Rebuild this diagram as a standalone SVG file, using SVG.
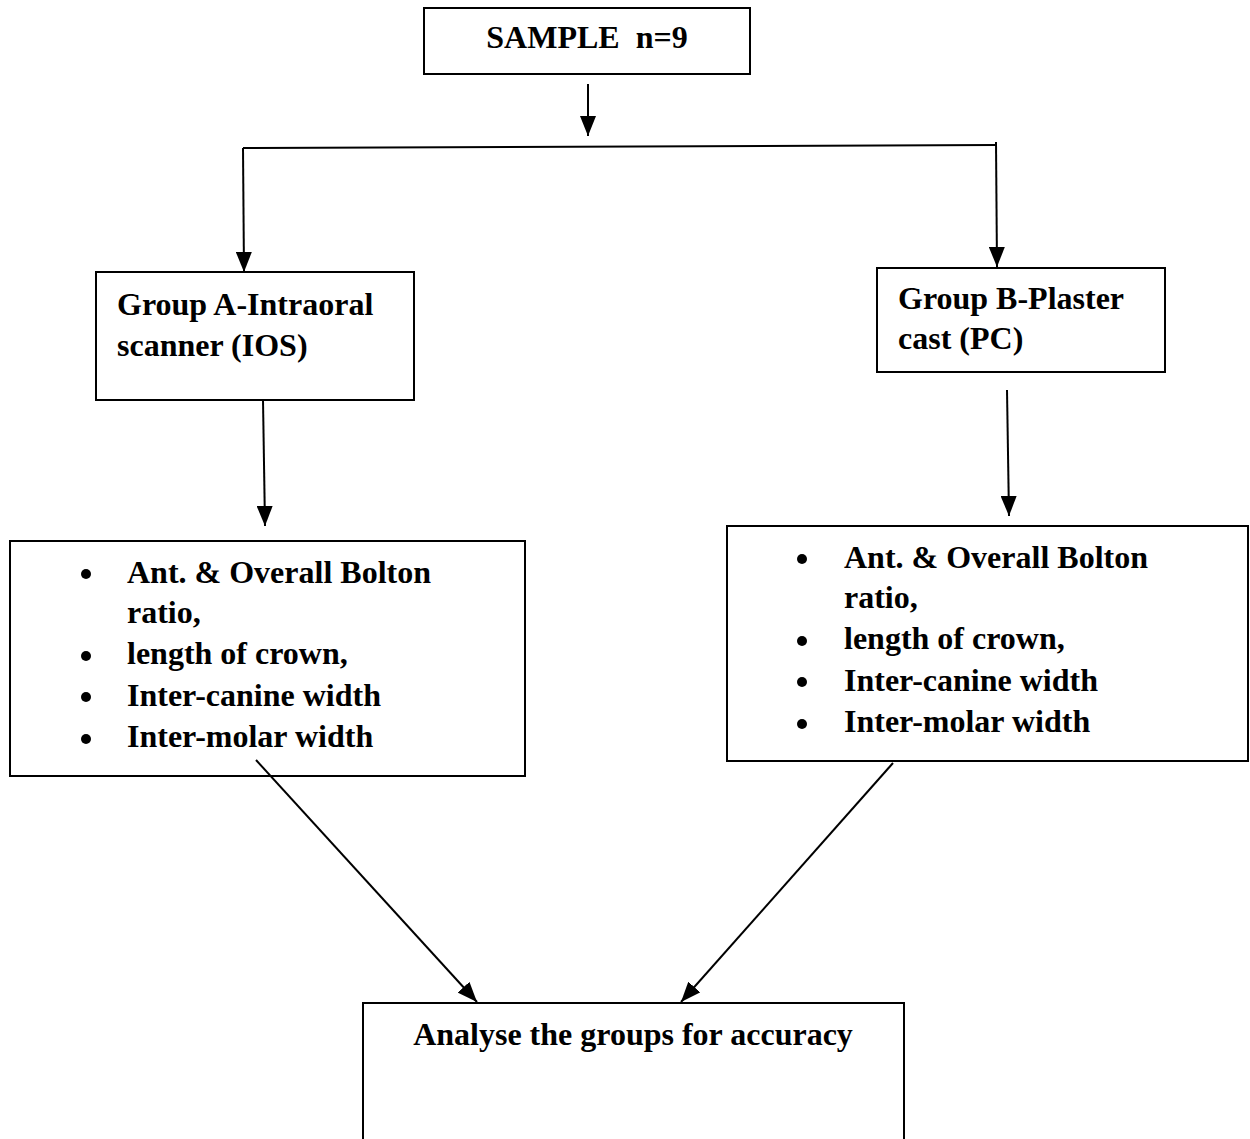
<svg xmlns="http://www.w3.org/2000/svg" width="1250" height="1139" viewBox="0 0 1250 1139">
<style>
.box{fill:none;stroke:#000;stroke-width:2}
.t{font-family:"Liberation Serif","Times New Roman",serif;font-weight:bold;font-size:32px;fill:#000}
.c{stroke:#000;stroke-width:2;fill:none}
.dot{fill:#000}
</style>
<defs>
<marker id="ah" markerUnits="userSpaceOnUse" markerWidth="20" markerHeight="16" refX="20" refY="8" orient="auto" viewBox="0 0 20 16">
<path d="M0,0 L20,8 L0,16 Z" fill="#000"/>
</marker>
</defs>
<rect width="1250" height="1139" fill="#fff"/>
<g id="sample">
<rect class="box" x="424" y="8" width="326" height="66"/>
<text class="t" x="587" y="48" text-anchor="middle" xml:space="preserve">SAMPLE  n=9</text>
</g>
<g id="groupA">
<rect class="box" x="96" y="272" width="318" height="128"/>
<text class="t" x="117" y="315">Group A-Intraoral</text>
<text class="t" x="117" y="356">scanner (IOS)</text>
</g>
<g id="groupB">
<rect class="box" x="877" y="268" width="288" height="104"/>
<text class="t" x="898" y="309">Group B-Plaster</text>
<text class="t" x="898" y="349">cast (PC)</text>
</g>
<g id="measuresA">
<rect class="box" x="10" y="541" width="515" height="235"/>
<circle class="dot" cx="86" cy="574" r="5"/>
<circle class="dot" cx="86" cy="656" r="5"/>
<circle class="dot" cx="86" cy="697" r="5"/>
<circle class="dot" cx="86" cy="739" r="5"/>
<text class="t" x="127" y="583">Ant. &amp; Overall Bolton</text>
<text class="t" x="127" y="623">ratio,</text>
<text class="t" x="127" y="664">length of crown,</text>
<text class="t" x="127" y="706">Inter-canine width</text>
<text class="t" x="127" y="747">Inter-molar width</text>
</g>
<g id="measuresB">
<rect class="box" x="727" y="526" width="521" height="235"/>
<circle class="dot" cx="802" cy="559" r="5"/>
<circle class="dot" cx="802" cy="641" r="5"/>
<circle class="dot" cx="802" cy="682" r="5"/>
<circle class="dot" cx="802" cy="724" r="5"/>
<text class="t" x="844" y="568">Ant. &amp; Overall Bolton</text>
<text class="t" x="844" y="608">ratio,</text>
<text class="t" x="844" y="649">length of crown,</text>
<text class="t" x="844" y="691">Inter-canine width</text>
<text class="t" x="844" y="732">Inter-molar width</text>
</g>
<g id="analyse">
<path class="c" d="M363,1139 L363,1003 L904,1003 L904,1139"/>
<text class="t" x="633" y="1045" text-anchor="middle">Analyse the groups for accuracy</text>
</g>
<g id="connectors">
<line class="c" x1="588" y1="84" x2="588" y2="136" marker-end="url(#ah)"/>
<line class="c" x1="243" y1="148" x2="996" y2="145"/>
<line class="c" x1="243" y1="148" x2="244" y2="272" marker-end="url(#ah)"/>
<line class="c" x1="996" y1="142" x2="997" y2="267" marker-end="url(#ah)"/>
<line class="c" x1="263" y1="400" x2="265" y2="526" marker-end="url(#ah)"/>
<line class="c" x1="1007" y1="390" x2="1009" y2="516" marker-end="url(#ah)"/>
<line class="c" x1="256" y1="760" x2="477" y2="1002" marker-end="url(#ah)"/>
<line class="c" x1="893" y1="763" x2="681" y2="1002" marker-end="url(#ah)"/>
</g>
</svg>
